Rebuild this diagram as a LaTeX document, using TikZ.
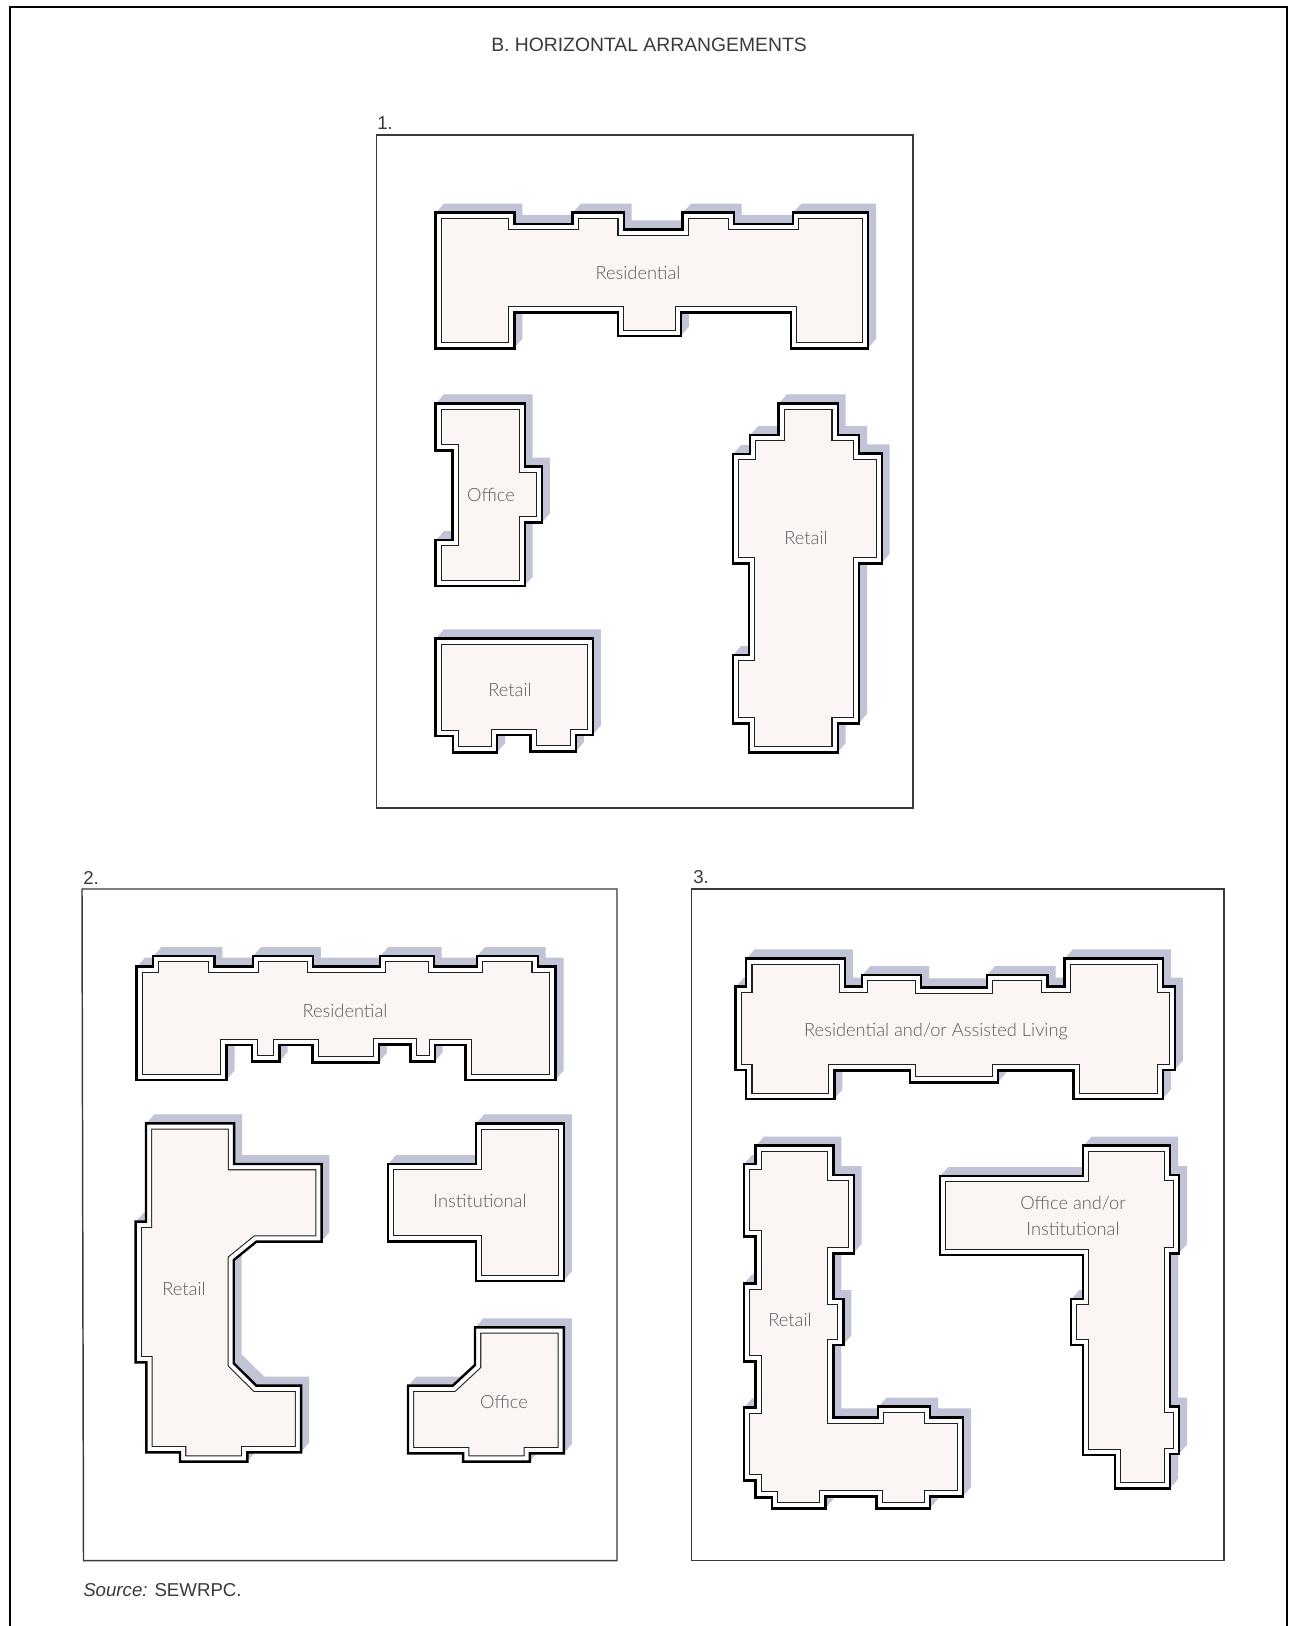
\documentclass[tikz,border=0pt]{standalone}
\usepackage{fontspec}
\setmainfont{Liberation Sans}
\newfontfamily\lblfont{Lato Light}
\definecolor{shadowc}{HTML}{C0C4D6}
\definecolor{roomc}{HTML}{FBF5F3}
\definecolor{framec}{HTML}{3A3A3A}
\definecolor{innerc}{HTML}{202020}
\definecolor{lblc}{HTML}{5A5A5A}
\tikzset{
  framebox/.style={draw=framec,line width=1.1},
  heading/.style={font=\fontsize{14.5}{16}\selectfont,text=framec,inner sep=0pt},
  smallhead/.style={font=\fontsize{14}{16}\selectfont,text=framec,inner sep=0pt},
  roomlabel/.style={font=\lblfont\fontsize{13.7}{19}\selectfont,text=lblc,inner sep=0pt,align=center},
}
% #1 = shift (px), #2 = closed polygon in zoom coordinates
\newcommand{\bldg}[2]{%
  \begin{scope}[shift={#1},x=0.2688pt,y=-0.25pt]
    \foreach \s in {0,0.1,...,1.01}{\fill[shadowc,shift={(22*\s,-27*\s)}] #2;}
    \fill[roomc] #2;
    \begin{scope}
      \clip #2;
      \draw[innerc,line width=9.4] #2;
      \draw[white,line width=7.8] #2;
    \end{scope}
    \draw[black,line width=1.8] #2;
  \end{scope}}
\begin{document}
\begin{tikzpicture}[x=0.75pt,y=-0.75pt]
\useasboundingbox (0,0) rectangle (1288,1626);
\fill[white] (0,0) rectangle (1288,1626);
\draw[black,line width=1.6] (10,1626) -- (10,7) -- (1287,7) -- (1287,1626);

\node[heading] (title) at (649,45) {B. HORIZONTAL ARRANGEMENTS};
\node[smallhead,anchor=south west] (n1) at (377,130) {1.};
\node[smallhead,anchor=south west] (n2) at (83,885) {2.};
\node[smallhead,anchor=south west] (n3) at (693,884) {3.};
\node[smallhead,anchor=west] (src) at (83,1590) {\textit{Source:} SEWRPC.};

\draw[framebox] (376.5,135) rectangle (913,808);
\draw[framebox] (82,889) -- (617,889) -- (617,1560.5) -- (83.5,1560.5) -- cycle;
\draw[framebox] (691.5,889) rectangle (1224,1560.5);

% Panel 1
\bldg{(370,120)}{(183,278)--(403,278)--(403,312)--(565,312)--(565,278)--(708,278)--(708,328)--(872,328)--(872,278)--(1015,278)--(1015,312)--(1180,312)--(1180,278)--(1390,278)--(1390,685)--(1175,685)--(1175,578)--(868,578)--(868,648)--(692,648)--(692,578)--(403,578)--(403,685)--(183,685)--cycle}
\bldg{(370,380)}{(183,70)--(432,70)--(432,260)--(480,260)--(480,428)--(432,428)--(432,618)--(183,618)--(183,480)--(230,480)--(230,212)--(183,212)--cycle}
\bldg{(370,380)}{(1140,70)--(1305,70)--(1305,165)--(1365,165)--(1365,220)--(1428,220)--(1428,550)--(1365,550)--(1365,1030)--(1305,1030)--(1305,1118)--(1058,1118)--(1058,1030)--(1012,1030)--(1012,825)--(1058,825)--(1058,550)--(1012,550)--(1012,222)--(1060,222)--(1060,165)--(1140,165)--cycle}
\bldg{(370,380)}{(183,775)--(622,775)--(622,1065)--(575,1065)--(575,1115)--(448,1115)--(448,1065)--(355,1065)--(355,1118)--(232,1118)--(232,1068)--(183,1068)--cycle}

% Panel 2
\bldg{(70,860)}{(186,320)--(232,320)--(232,288)--(403,288)--(403,320)--(510,320)--(510,288)--(678,288)--(678,320)--(865,320)--(865,288)--(1015,288)--(1015,320)--(1135,320)--(1135,288)--(1305,288)--(1305,320)--(1355,320)--(1355,660)--(1103,660)--(1103,555)--(1018,555)--(1018,605)--(950,605)--(950,553)--(862,553)--(862,607)--(677,607)--(677,555)--(585,555)--(585,605)--(508,605)--(508,555)--(437,555)--(437,660)--(186,660)--cycle}
\bldg{(70,1200)}{(212,-230)--(458,-230)--(458,-108)--(702,-108)--(702,125)--(520,125)--(457,180)--(457,490)--(520,557)--(645,557)--(645,757)--(495,757)--(495,785)--(307,785)--(307,757)--(213,757)--(213,487)--(183,487)--(183,65)--(212,65)--cycle}
\bldg{(70,1200)}{(1133,-230)--(1378,-230)--(1378,243)--(1132,243)--(1132,125)--(887,125)--(887,-108)--(1133,-108)--cycle}
\bldg{(70,1200)}{(1130,382)--(1378,382)--(1378,760)--(1283,760)--(1283,785)--(1097,785)--(1097,760)--(943,760)--(943,557)--(1068,557)--(1130,495)--cycle}

% Panel 3
\bldg{(690,860)}{(157,295)--(433,295)--(433,380)--(480,380)--(480,345)--(645,345)--(645,382)--(828,382)--(828,345)--(998,345)--(998,380)--(1045,380)--(1045,295)--(1320,295)--(1320,380)--(1353,380)--(1353,630)--(1320,630)--(1320,717)--(1070,717)--(1070,632)--(860,632)--(860,667)--(613,667)--(613,632)--(403,632)--(403,717)--(157,717)--(157,630)--(127,630)--(127,380)--(157,380)--cycle}
\bldg{(690,1200)}{(183,-163)--(400,-163)--(400,-75)--(457,-75)--(457,160)--(400,160)--(400,297)--(428,297)--(428,435)--(400,435)--(400,652)--(525,652)--(525,620)--(670,620)--(670,652)--(762,652)--(762,890)--(670,890)--(670,925)--(520,925)--(520,890)--(378,890)--(378,925)--(228,925)--(228,893)--(183,893)--(183,842)--(150,842)--(150,622)--(183,622)--(183,485)--(150,485)--(150,250)--(183,250)--(183,110)--(150,110)--(150,-108)--(183,-108)--cycle}
\bldg{(690,1200)}{(697,-72)--(1097,-72)--(1097,-163)--(1340,-163)--(1340,-75)--(1365,-75)--(1365,160)--(1340,160)--(1340,620)--(1365,620)--(1365,762)--(1340,762)--(1340,865)--(1185,865)--(1185,765)--(1097,765)--(1097,435)--(1063,435)--(1063,297)--(1097,297)--(1097,165)--(697,165)--cycle}

% Labels
\node[roomlabel] (l1) at (638,273) {Residential};
\node[roomlabel] (l2) at (491,495) {Office};
\node[roomlabel] (l3) at (806,538) {Retail};
\node[roomlabel] (l4) at (510,690) {Retail};
\node[roomlabel] (l5) at (345,1011) {Residential};
\node[roomlabel] (l6) at (480,1201) {Institutional};
\node[roomlabel] (l7) at (184,1289) {Retail};
\node[roomlabel] (l8) at (504,1402) {Office};
\node[roomlabel] (l9) at (936,1032) {Residential and/or Assisted Living};
\node[roomlabel] (l10) at (1073,1216) {Office and/or\\Institutional};
\node[roomlabel] (l11) at (790,1320) {Retail};
\end{tikzpicture}
\end{document}
